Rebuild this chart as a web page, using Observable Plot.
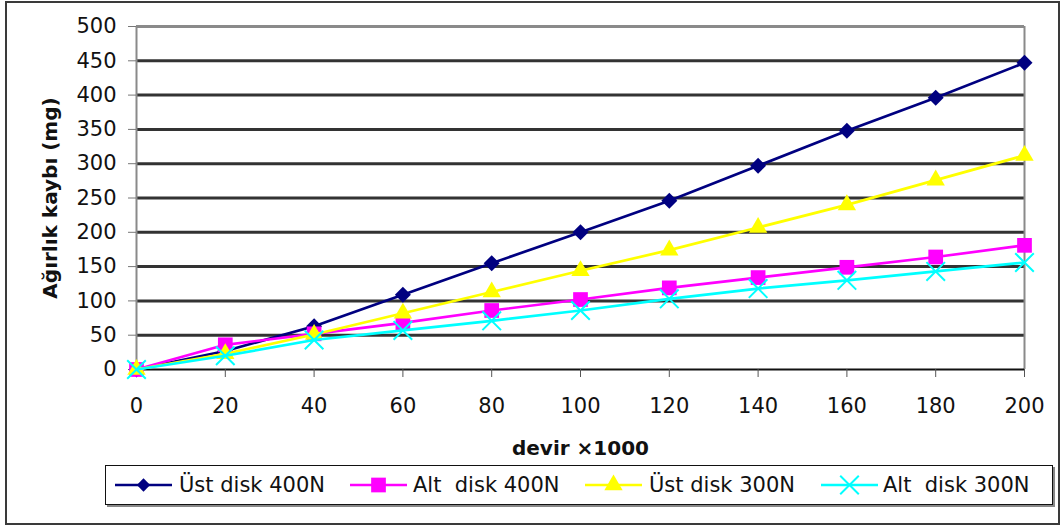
<!DOCTYPE html>
<html><head><meta charset="utf-8">
<script src="https://cdn.jsdelivr.net/npm/d3@7"></script>
<script src="https://cdn.jsdelivr.net/npm/@observablehq/plot@0.6"></script>
<style>
body{margin:0;background:#fff;}
#wrap{position:relative;width:1061px;height:528px;overflow:hidden;font-family:"DejaVu Sans",sans-serif;}
#frame{position:absolute;left:5px;top:1px;width:1051px;height:520px;border:2px solid #3a3a3a;pointer-events:none;}
#legend{position:absolute;left:105px;top:465px;width:946px;height:38px;border:1.5px solid #111;box-shadow:2px 2px 0 #888;background:#fff;}
.li{position:absolute;top:0;height:38px;}
.lt{position:absolute;top:7px;font-size:21px;color:#111;white-space:pre;line-height:24px;}
</style></head>
<body><div id="wrap"><div id="chart"></div><div id="legend"></div><div id="frame"></div></div>
<script>
const devir = [0, 20, 40, 60, 80, 100, 120, 140, 160, 180, 200];
const ustDisk400 = [0, 27, 63, 109, 155, 200, 246, 297, 348, 396, 447];
const altDisk400 = [0, 36, 52, 68, 86, 102, 119, 134, 149, 164, 181];
const ustDisk300 = [0, 23, 51, 82, 113, 144, 174, 207, 240, 276, 312];
const altDisk300 = [0, 20, 43, 57, 71, 86, 103, 118, 130, 143, 156];
const seriesNames = ["Üst disk 400N", "Alt  disk 400N", "Üst disk 300N", "Alt  disk 300N"];
const seriesColors = ["#000080", "#ff00ff", "#ffff00", "#00ffff"];
const seriesSymbols = ["diamond2", "square", "triangle", "times"];
const xTicks = [0, 20, 40, 60, 80, 100, 120, 140, 160, 180, 200];
const yTicks = [0, 50, 100, 150, 200, 250, 300, 350, 400, 450, 500];
const xTitle = "devir ×1000";
const yTitle = "Ağırlık kaybı (mg)";

const allValues = [ustDisk400, altDisk400, ustDisk300, altDisk300];
const rows = [];
allValues.forEach((vals, s) => vals.forEach((v, i) => rows.push({x: devir[i], y: v, s: seriesNames[s]})));
const symR = {"diamond2": 7.2, "square": 8.3, "triangle": 6.8, "times": 8.5};

const marks = [
  Plot.ruleY(yTicks.filter(t => t > 0 && t < 500), {stroke: "#333", strokeWidth: 3}),
  Plot.ruleY([500], {stroke: "#8a8a8a", strokeWidth: 3}),
  Plot.ruleX([200], {stroke: "#8a8a8a", strokeWidth: 2}),
  Plot.ruleX([0], {stroke: "#8a8a8a", strokeWidth: 2}),
  Plot.ruleY([0], {stroke: "#111", strokeWidth: 2}),
  Plot.axisY({ticks: yTicks, tickSize: 8, tickPadding: 12, stroke: "#777", fill: "#111", label: null, tickFormat: d => String(d)}),
  Plot.axisX({ticks: xTicks, tickSize: 8, tickPadding: 21, stroke: "#555", fill: "#111", label: null, tickFormat: d => String(d)}),
];
seriesNames.forEach((name, s) => {
  const d = rows.filter(r => r.s === name);
  marks.push(Plot.line(d, {x: "x", y: "y", stroke: seriesColors[s], strokeWidth: 2.7}));
  const sym = seriesSymbols[s];
  if (sym === "times") {
    marks.push(Plot.dot(d, {x: "x", y: "y", symbol: sym, r: symR[sym], stroke: seriesColors[s], strokeWidth: 2, fill: "none"}));
  } else {
    marks.push(Plot.dot(d, {x: "x", y: "y", symbol: sym, r: symR[sym], fill: seriesColors[s], stroke: "none"}));
  }
});
marks.push(Plot.text([xTitle], {frameAnchor: "bottom", dy: 85, text: d => d, fontWeight: "bold", fontSize: 20, fill: "#111"}));
marks.push(Plot.text([yTitle], {frameAnchor: "left", textAnchor: "middle", dx: -86, rotate: -90, text: d => d, fontWeight: "bold", fontSize: 20, fill: "#111"}));

const chart = Plot.plot({
  width: 1061, height: 528,
  marginLeft: 136, marginRight: 37, marginTop: 26, marginBottom: 159,
  x: {domain: [0, 200]},
  y: {domain: [0, 500]},
  style: {fontFamily: "DejaVu Sans", fontSize: "21px", background: "transparent", color: "#111"},
  marks
});
document.getElementById("chart").appendChild(chart);

// legend
const legend = document.getElementById("legend");
const lineX = [9, 244, 479, 715];
const textX = [73, 307, 543, 777];
const legR = {"diamond2": 6, "square": 8.3, "triangle": 6.8, "times": 8.5};
seriesNames.forEach((name, s) => {
  const sym = seriesSymbols[s];
  const size = Math.PI * legR[sym] ** 2;
  const symType = {diamond2: d3.symbolDiamond2, square: d3.symbolSquare, triangle: d3.symbolTriangle, times: d3.symbolTimes}[sym];
  const path = d3.symbol(symType, size)();
  const fill = sym === "times" ? "none" : seriesColors[s];
  const stroke = sym === "times" ? seriesColors[s] : "none";
  const div = document.createElement("div");
  div.className = "li";
  div.style.left = lineX[s] + "px";
  div.innerHTML = `<svg width="58" height="38" style="position:absolute;left:0;top:0"><line x1="0" x2="57" y1="19" y2="19" stroke="${seriesColors[s]}" stroke-width="2.5"/><path d="${path}" transform="translate(28.5,19)" fill="${fill}" stroke="${stroke}" stroke-width="2"/></svg>`;
  legend.appendChild(div);
  const t = document.createElement("div");
  t.className = "lt";
  t.style.left = textX[s] + "px";
  t.textContent = name;
  legend.appendChild(t);
});
</script></body></html>
